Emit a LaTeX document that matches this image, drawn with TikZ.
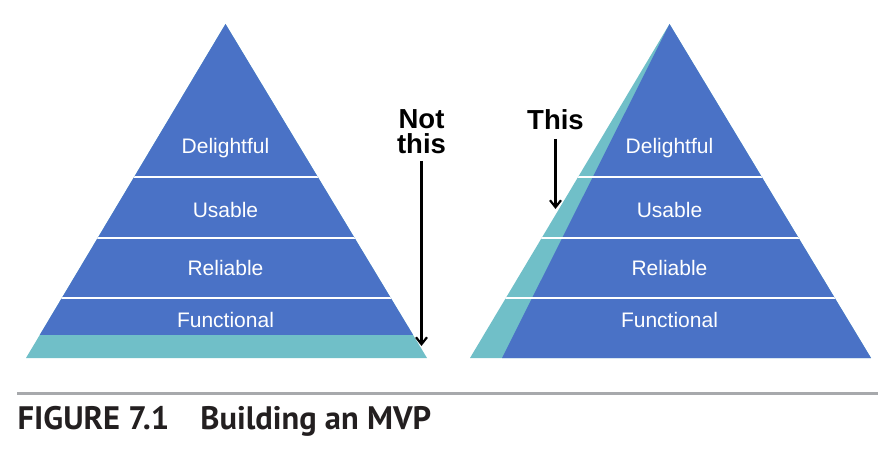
\documentclass[tikz,border=0pt]{standalone}
\usepackage{fontspec}
\setmainfont{Liberation Sans}
\newfontfamily\capfont{PT Sans}
\usetikzlibrary{arrows.meta}
\definecolor{pblue}{HTML}{4A72C6}
\definecolor{pteal}{HTML}{70BFC8}
\definecolor{rulegray}{HTML}{A7A9AC}
\definecolor{captext}{HTML}{231F20}
\tikzset{
  layerlabel/.style={text=white, font=\fontsize{21}{24}\selectfont, anchor=base, inner sep=0pt},
  sep/.style={white, line width=2pt},
  callout/.style={font=\bfseries\fontsize{27.5}{24.5}\selectfont, align=center, inner sep=0pt, text=black},
  pointer/.style={line width=2.2pt, -{Straight Barb[length=7pt,width=11pt,line width=2.2pt]}},
}
\begin{document}
\begin{tikzpicture}[x=1pt,y=-1pt]
\useasboundingbox (0,0) rectangle (891,449);
% left pyramid
\coordinate (LA) at (225.5,24);
\coordinate (LL) at (26,358);
\coordinate (LR) at (427,358);
\fill[pteal] (LA) -- (LL) -- (LR) -- cycle;
\begin{scope}
  \clip (LA) -- (LL) -- (LR) -- cycle;
  \fill[pblue] (0,0) rectangle (891,335);
  \draw[sep] (0,177.5) -- (891,177.5);
  \draw[sep] (0,238) -- (891,238);
  \draw[sep] (0,298.3) -- (891,298.3);
\end{scope}
\node[layerlabel] (l1) at (225.5,154) {Delightful};
\node[layerlabel] (l2) at (225.5,217) {Usable};
\node[layerlabel] (l3) at (225.5,275) {Reliable};
\node[layerlabel] (l4) at (225.5,327) {Functional};
% right pyramid
\coordinate (RA) at (669.5,24);
\coordinate (RL) at (470,358);
\coordinate (RB) at (502,358);
\coordinate (RR) at (871,358);
\fill[pteal] (RA) -- (RL) -- (RR) -- cycle;
\fill[pblue] (RA) -- (RB) -- (RR) -- cycle;
\begin{scope}
  \clip (RA) -- (RL) -- (RR) -- cycle;
  \draw[sep] (0,177.5) -- (891,177.5);
  \draw[sep] (0,238) -- (891,238);
  \draw[sep] (0,298.3) -- (891,298.3);
\end{scope}
\node[layerlabel] (r1) at (669.5,154) {Delightful};
\node[layerlabel] (r2) at (669.5,217) {Usable};
\node[layerlabel] (r3) at (669.5,275) {Reliable};
\node[layerlabel] (r4) at (669.5,327) {Functional};
% callouts
\node[callout, anchor=north] (notthis) at (421.5,109.5) {Not\\this};
\coordinate (nt) at (421.5,346);
\draw[pointer] (notthis.south |- 0,161) -- (nt);
\node[callout, anchor=north] (this) at (555.5,109.5) {This};
\coordinate (th) at (555.5,209);
\draw[pointer] (this.south |- 0,139) -- (th);
% caption
\draw[rulegray, line width=2.5pt] (17,393.5) -- (877.5,393.5);
\node[anchor=base west, inner sep=0pt, text=captext, font=\capfont\bfseries\fontsize{32.5}{34}\selectfont] (cap) at (17.5,429.5) {FIGURE 7.1\hspace{31pt}Building an MVP};
\end{tikzpicture}
\end{document}
